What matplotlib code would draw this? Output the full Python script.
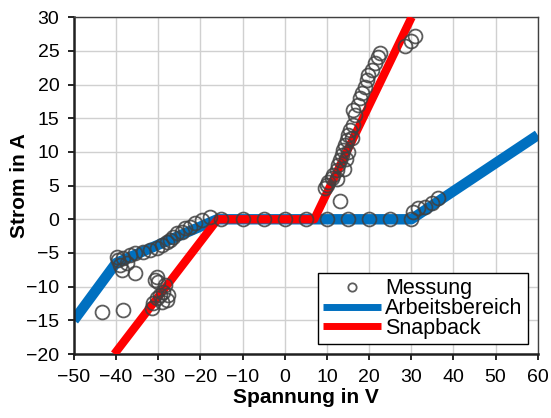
import matplotlib
matplotlib.use("Agg")
import matplotlib.pyplot as plt

plt.rcParams['font.family'] = ['Liberation Sans', 'DejaVu Sans']

# Messung (measured points)
mess_u = [-43.4, -38.4, -39.8, -39.6, -39.1, -38.6, -38.4, -37.4, -36.7, -35.5, -35.5,
          -33.6, -32.0, -30.3, -29.1, -28.0, -27.2, -26.5, -25.6, -24.4, -23.7, -22.5,
          -21.3, -19.7, -17.8, -15.0, -10.0, -5.0, 0.0, 5.0, 10.0, 15.0, 20.0, 25.0, 30.0,
          -30.3, -30.8, -30.1, -28.4, -28.9, -29.6, -30.3, -31.3, -31.5, -28.0, -27.7, -29.1,
          9.5, 10.0, 10.2, 11.2, 11.4, 12.4, 12.6, 13.1, 13.5, 13.8, 14.2, 14.7, 15.0, 15.4,
          16.2, 16.6, 16.1, 17.3, 17.8, 18.3, 19.0, 19.5, 19.7, 20.6, 21.4, 22.1, 22.5,
          14.5, 15.0, 16.0, 14.0, 12.5, 13.1,
          28.5, 30.0, 31.0, 30.4, 31.6, 33.2, 34.9, 36.3]
mess_i = [-13.8, -13.5, -5.6, -6.1, -6.8, -7.5, -5.8, -6.5, -5.3, -5.0, -8.0,
          -4.9, -4.6, -4.3, -3.8, -3.4, -3.1, -2.6, -2.0, -1.9, -1.3, -1.2,
          -0.6, -0.1, 0.3, 0.0, 0.0, 0.0, 0.0, 0.0, 0.0, 0.0, 0.0, 0.0, 0.0,
          -8.6, -9.0, -9.3, -9.8, -10.8, -11.2, -11.7, -12.4, -13.2, -12.0, -11.2, -12.3,
          4.6, 5.1, 5.5, 6.1, 6.6, 7.3, 8.0, 8.8, 9.5, 10.3, 11.0, 11.7, 12.5, 13.2,
          14.0, 15.5, 16.2, 16.9, 18.0, 18.7, 19.6, 20.7, 21.4, 22.1, 23.2, 24.1, 24.7,
          9.0, 10.0, 12.0, 7.5, 6.0, 2.7,
          25.7, 26.5, 27.2, 1.1, 1.7, 1.8, 2.4, 3.1]

# Arbeitsbereich (working range)
arb_u = [-50, -40, -16, 30, 60]
arb_i = [-15, -6.5, 0, 0, 12.5]

# Snapback
snap_u = [-40.4, -15.9, 7.0, 30.1]
snap_i = [-20, 0, 0, 30]

fig = plt.figure(figsize=(5.51, 4.18), dpi=100)
ax = fig.add_axes([0.134, 0.153, 0.842, 0.806])

ax.plot(arb_u, arb_i, color='#0070C0', lw=7.5, solid_capstyle='butt', label='Arbeitsbereich', zorder=2)
ax.plot(snap_u, snap_i, color='#FF0000', lw=6, solid_capstyle='butt', label='Snapback', zorder=3)
ax.plot(mess_u, mess_i, ls='none', marker='o', ms=10, mfc='none', mec='#404040', mew=1.3,
        alpha=0.85, label='Messung', zorder=4)

ax.set_xlim(-50, 60)
ax.set_ylim(-20, 30)
ax.set_xticks(range(-50, 61, 10))
ax.set_yticks(range(-20, 31, 5))
ax.grid(True, color='#d0d0d0', lw=1)
ax.set_axisbelow(True)
ax.tick_params(direction='out', length=4.5, width=1.2, labelsize=14, colors='black')
ax.tick_params(axis='y', pad=6)
ax.tick_params(axis='x', pad=6)
for s in ['top', 'right']:
    ax.spines[s].set_color('#404040')
    ax.spines[s].set_linewidth(1)
for s in ['left', 'bottom']:
    ax.spines[s].set_color('#202020')
    ax.spines[s].set_linewidth(1.8)

ax.set_xlabel('Spannung in V', fontsize=15, fontweight='bold', labelpad=2)
ax.set_ylabel('Strom in A', fontsize=15, fontweight='bold')
ax.yaxis.set_label_coords(-0.097, 0.5)

h, l = ax.get_legend_handles_labels()
order = [2, 0, 1]
leg = ax.legend([h[i] for i in order], [l[i] for i in order], loc='lower right',
                fontsize=15.5, fancybox=False, edgecolor='black', framealpha=1,
                borderpad=0.25, labelspacing=-0.05, handlelength=2.7, handletextpad=0.2,
                borderaxespad=0.45, markerscale=0.6)
leg.get_frame().set_linewidth(1)
for lh in leg.get_lines()[1:]:
    lh.set_linewidth(5)

fig.savefig('out.png', dpi=100)
